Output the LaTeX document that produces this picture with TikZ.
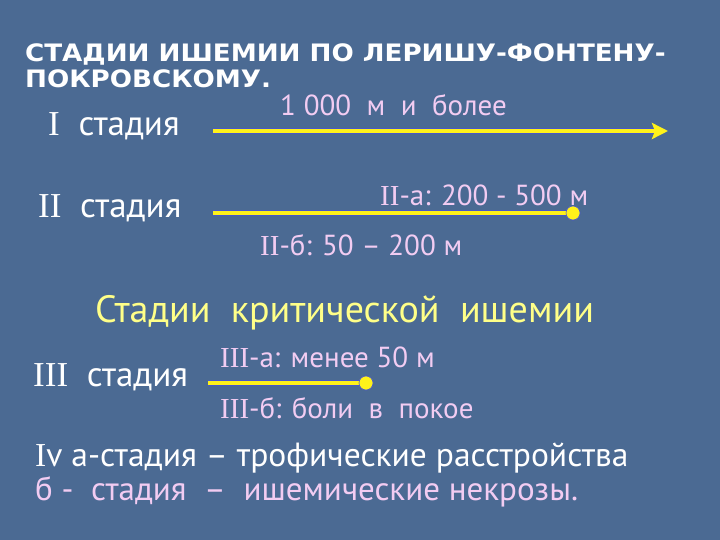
\documentclass[tikz,border=0pt]{standalone}
\usepackage{fontspec}
\usepackage{graphicx}
\setmainfont{PT Sans}
\newfontfamily\romfont{Liberation Serif}
\newfontfamily\headfont{DejaVu Sans}
\usetikzlibrary{arrows.meta}

\definecolor{slide}{HTML}{4B6A93}
\definecolor{pinktext}{HTML}{F2CCF2}
\definecolor{headyellow}{HTML}{FFFF88}
\definecolor{lineyellow}{HTML}{FFF21A}
\definecolor{lineedge}{HTML}{4858C8}

\newcommand{\wide}[1]{\scalebox{1.09}[1]{#1}}

\tikzset{
  title/.style = {anchor=base west, inner sep=0pt, text=white, font=\headfont\bfseries\fontsize{24}{28}\selectfont},
  stage/.style = {anchor=base west, inner sep=0pt, text=white, font=\fontsize{35}{40}\selectfont},
  lbl/.style   = {anchor=base west, inner sep=0pt, text=pinktext, font=\fontsize{29}{34}\selectfont},
  edge/.style  = {draw=lineedge, line width=6.5pt},
  core/.style  = {draw=lineyellow, line width=4pt},
  dot/.style   = {circle, fill=lineyellow, draw=lineedge, line width=0.6pt, minimum size=14pt, inner sep=0pt}
}

\begin{document}
\begin{tikzpicture}[x=1pt, y=-1pt]

  \fill[slide] (0,0) rectangle (720,540);
  \useasboundingbox (0,0) rectangle (720,540);

  % heading
  \node[title] (t1) at (25,62) {\wide{СТАДИИ ИШЕМИИ ПО ЛЕРИШУ-ФОНТЕНУ-}};
  \node[title] (t2) at (25,88) {\wide{ПОКРОВСКОМУ.}};

  % stage I
  \node[stage] (s1) at (48,136) {{\romfont I}\ \ стадия};
  \node[lbl] (l1) at (280,116) {1 000\ \ м\ \ и\ \ более};
  \coordinate (a1) at (213,131);
  \coordinate (b1) at (668,131);
  \draw[edge] (a1) -- ([xshift=-8pt]b1);
  \draw[core, -{Stealth[length=16pt, width=16pt, inset=3pt]}] (a1) -- (b1);

  % stage II
  \node[stage] (s2) at (38,218) {{\romfont II}\ \ стадия};
  \node[lbl] (l2a) at (380,206) {{\romfont II}-а: 200 - 500 м};
  \node[lbl] (l2b) at (260,255) {{\romfont II}-б: 50 -- 200 м};
  \coordinate (a2) at (213,213);
  \node[dot] (d2) at (573,213) {};
  \draw[edge] (a2) -- (d2);
  \draw[core] (a2) -- (d2.center);
  \node[dot] at (d2) {};

  % critical
  \node[anchor=base west, inner sep=0pt, text=headyellow, font=\fontsize{38}{44}\selectfont] (hc) at (95,322) {Стадии\ \ критической\ \ ишемии};

  % stage III
  \node[stage] (s3) at (33,386) {{\romfont III}\ \ стадия};
  \node[lbl] (l3a) at (220,367) {{\romfont III}-а: менее 50 м};
  \node[lbl] (l3b) at (220,418) {{\romfont III}-б: боли\ \ в\ \ покое};
  \coordinate (a3) at (208,383);
  \node[dot] (d3) at (366,383) {};
  \draw[edge] (a3) -- (d3);
  \draw[core] (a3) -- (d3.center);
  \node[dot] at (d3) {};

  % stage IV
  \node[stage, font=\fontsize{33.5}{36}\selectfont] (s4a) at (35,466) {{\romfont I}v а-стадия -- трофические расстройства};
  \node[stage, text=pinktext, font=\fontsize{33}{36}\selectfont] (s4b) at (35,500) {б -\ \ стадия\ \ --\ \ ишемические некрозы.};

\end{tikzpicture}
\end{document}
